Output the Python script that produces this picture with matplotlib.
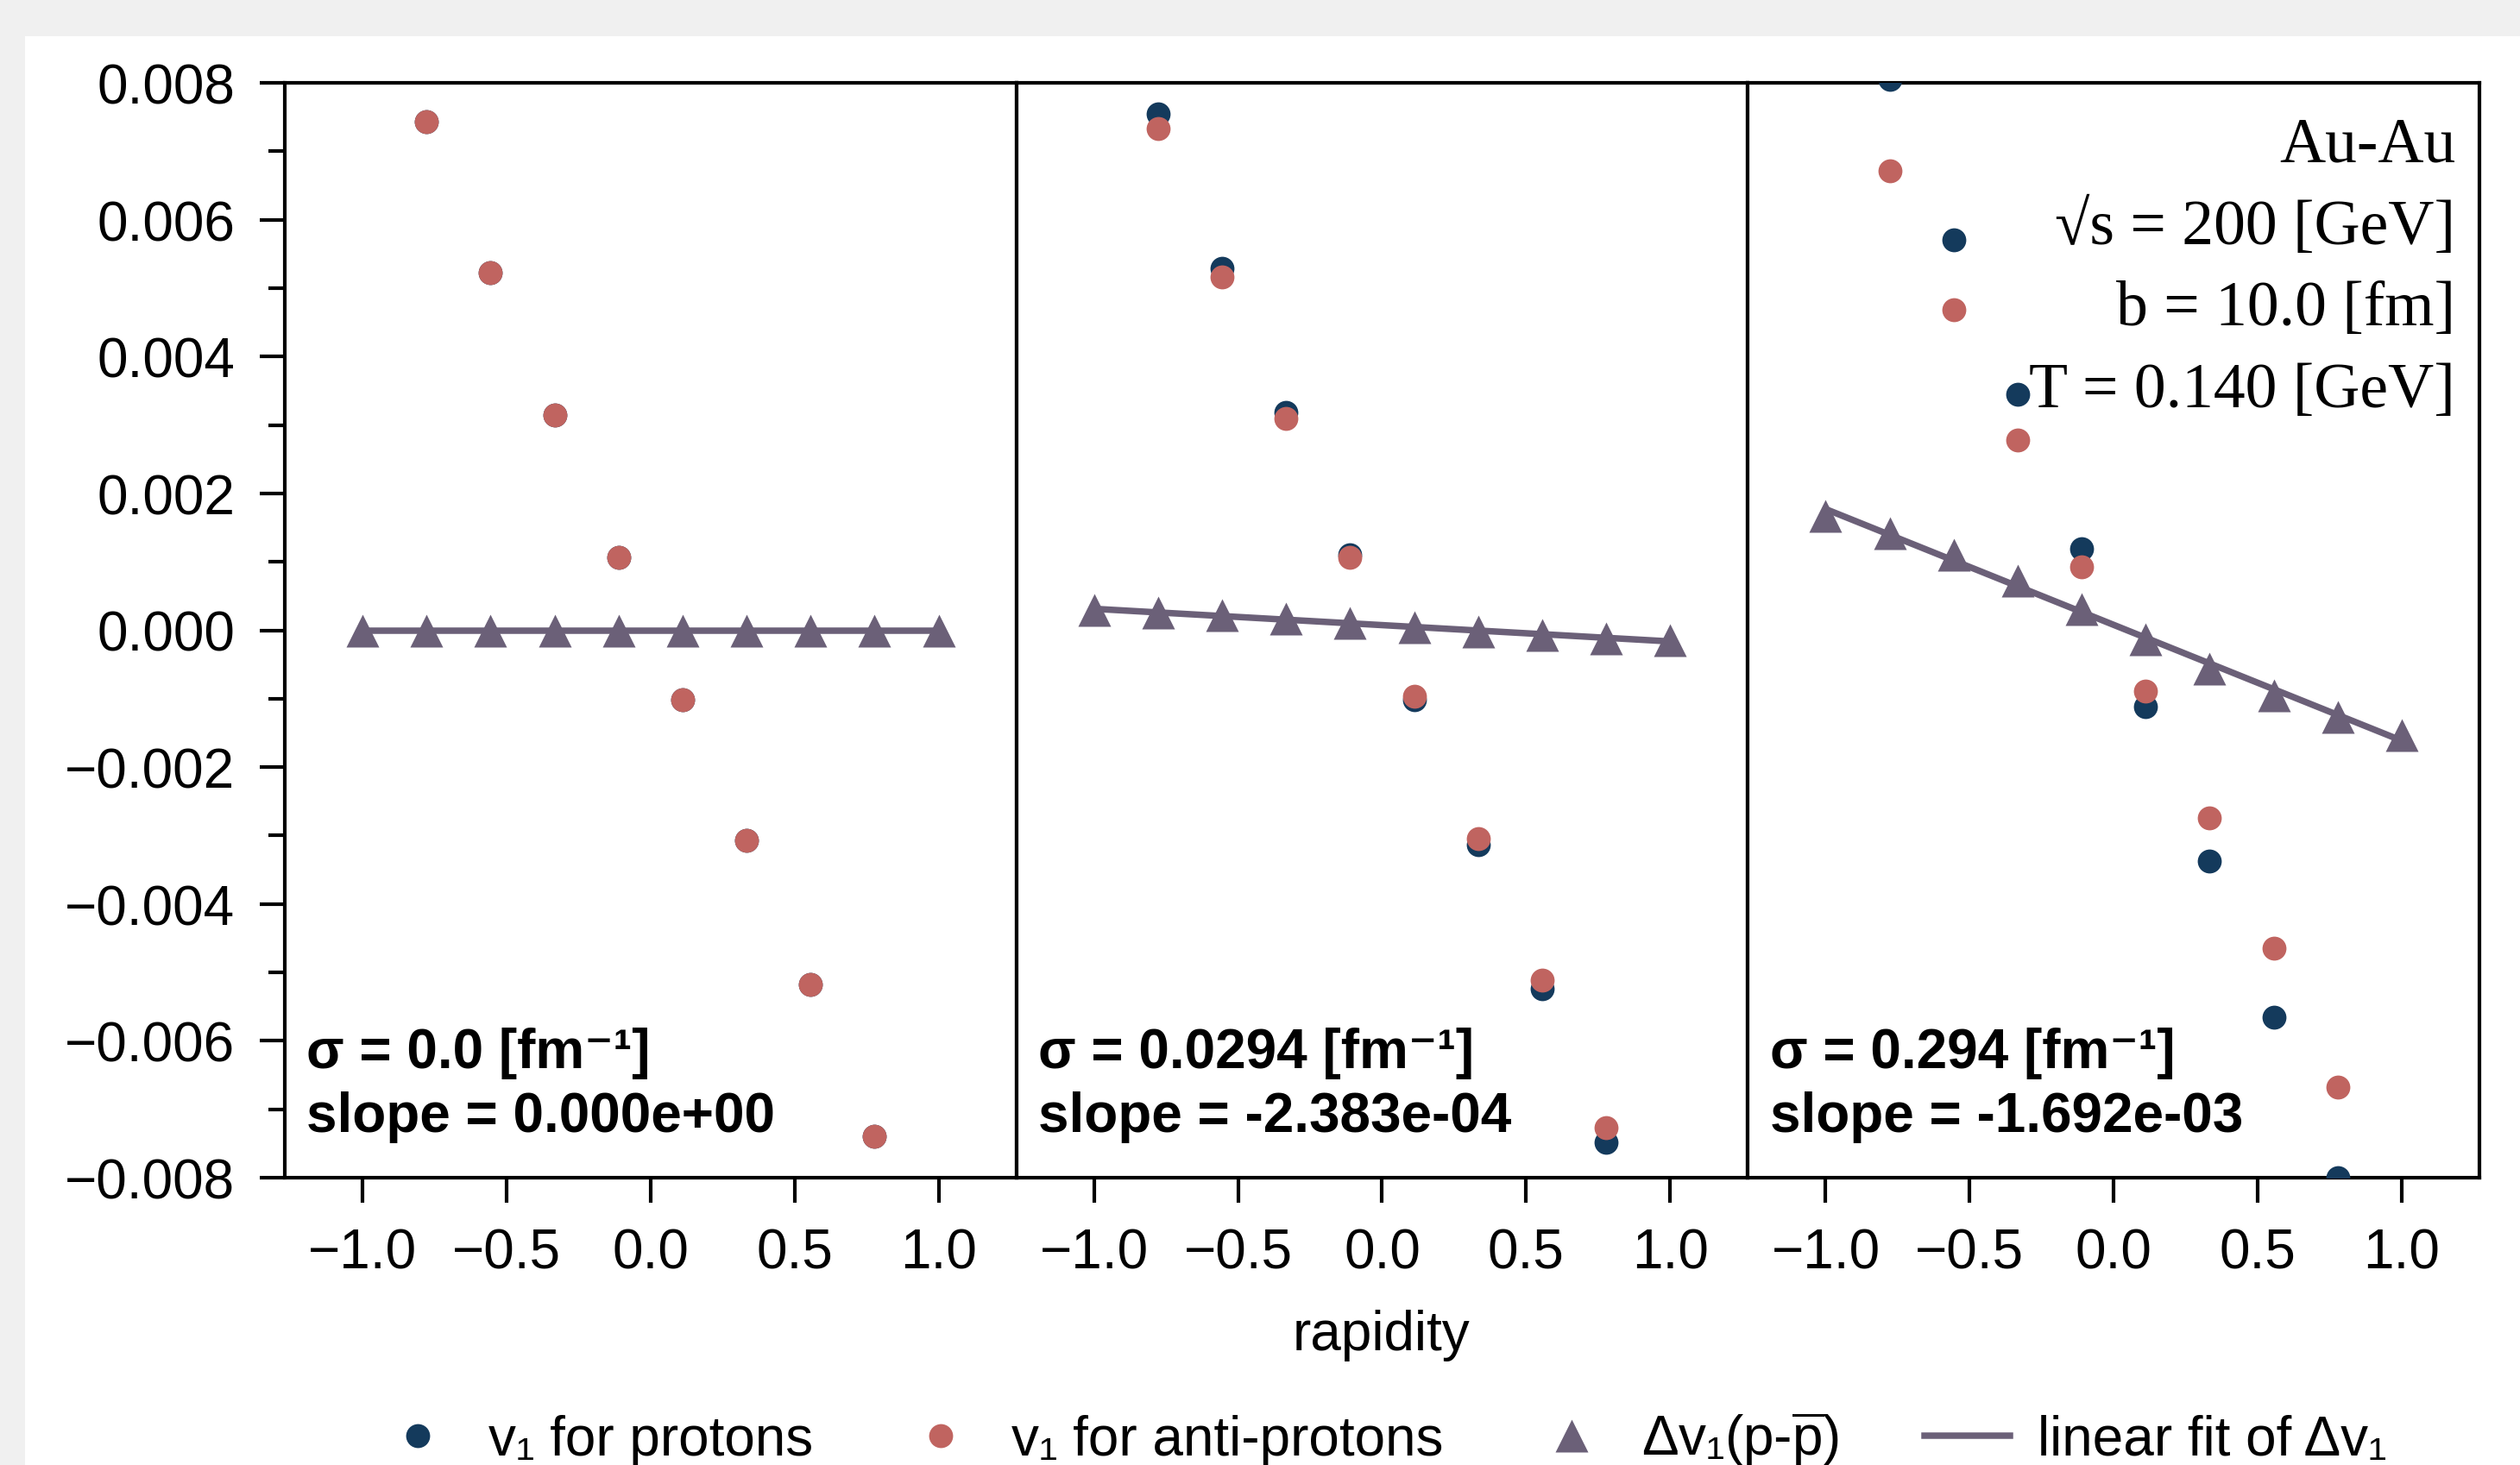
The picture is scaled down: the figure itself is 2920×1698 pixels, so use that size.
import numpy as np
import matplotlib
matplotlib.use("Agg")
import matplotlib.pyplot as plt
from matplotlib.patches import Rectangle
from matplotlib.lines import Line2D
from matplotlib.ticker import MultipleLocator

# ---- data -------------------------------------------------------------
rapidity = [-0.7778, -0.5556, -0.3333, -0.1111, 0.1111, 0.3333, 0.5556, 0.7778]
rapidity_fit = [-1.0, -0.7778, -0.5556, -0.3333, -0.1111,
                0.1111, 0.3333, 0.5556, 0.7778, 1.0]

sigma = [0.0, 0.0294, 0.294]
slope = [0.000e+00, -2.383e-04, -1.692e-03]

# sigma = 0.0
v1_protons_0 = [7.43e-3, 5.23e-3, 3.14e-3, 1.07e-3, -1.01e-3, -3.07e-3, -5.18e-3, -7.39e-3]
v1_antiprotons_0 = [7.43e-3, 5.23e-3, 3.14e-3, 1.07e-3, -1.01e-3, -3.07e-3, -5.18e-3, -7.39e-3]
dv1_0 = [0.0, 0.0, 0.0, 0.0, 0.0, 0.0, 0.0, 0.0, 0.0, 0.0]

# sigma = 0.0294
v1_protons_1 = [7.54e-3, 5.29e-3, 3.18e-3, 1.10e-3, -1.01e-3, -3.13e-3, -5.24e-3, -7.48e-3]
v1_antiprotons_1 = [7.33e-3, 5.16e-3, 3.09e-3, 1.07e-3, -0.97e-3, -3.04e-3, -5.11e-3, -7.27e-3]
dv1_1 = [0.299e-3, 0.261e-3, 0.221e-3, 0.164e-3, 0.110e-3,
         0.044e-3, -0.013e-3, -0.067e-3, -0.116e-3, -0.151e-3]

# sigma = 0.294
v1_protons_2 = [8.05e-3, 5.71e-3, 3.45e-3, 1.19e-3, -1.11e-3, -3.37e-3, -5.65e-3, -8.00e-3]
v1_antiprotons_2 = [6.71e-3, 4.68e-3, 2.78e-3, 0.93e-3, -0.89e-3, -2.74e-3, -4.64e-3, -6.67e-3]
dv1_2 = [1.675e-3, 1.423e-3, 1.108e-3, 0.725e-3, 0.303e-3,
         -0.137e-3, -0.567e-3, -0.948e-3, -1.263e-3, -1.530e-3]

v1_protons = [v1_protons_0, v1_protons_1, v1_protons_2]
v1_antiprotons = [v1_antiprotons_0, v1_antiprotons_1, v1_antiprotons_2]
dv1 = [dv1_0, dv1_1, dv1_2]

# ---- style ------------------------------------------------------------
plt.rcParams['font.family'] = ['Liberation Sans', 'DejaVu Sans']
plt.rcParams['mathtext.fontset'] = 'custom'
plt.rcParams['mathtext.rm'] = 'Liberation Sans'
plt.rcParams['mathtext.it'] = 'Liberation Sans:italic'
plt.rcParams['mathtext.bf'] = 'Liberation Sans:bold'
plt.rcParams['axes.unicode_minus'] = True

NAVY = '#143a5c'
ROSE = '#c06460'
PURPLE = '#6b6078'
FS = 23

fig = plt.figure(figsize=(14.6, 8.495), dpi=200, facecolor='white')

# light grey frame along the top and left edges
fig.patches.append(Rectangle((0, 0), 29 / 2920, 1, transform=fig.transFigure,
                             facecolor='#f0f0f0', edgecolor='none', zorder=-10))
fig.patches.append(Rectangle((0, 1 - 43 / 1699), 1, 43 / 1699, transform=fig.transFigure,
                             facecolor='#f0f0f0', edgecolor='none', zorder=-10))

left, right = 330 / 2920, 2873 / 2920
top, bottom = 1 - 97 / 1699, 1 - 1366 / 1699
gs = fig.add_gridspec(1, 3, left=left, right=right, top=top, bottom=bottom, wspace=0)
axes = [fig.add_subplot(gs[0, i]) for i in range(3)]

for i, ax in enumerate(axes):
    ax.plot(rapidity, v1_protons[i], ls='none', marker='o', ms=10,
            color=NAVY, mec='none', zorder=3)
    ax.plot(rapidity, v1_antiprotons[i], ls='none', marker='o', ms=10,
            color=ROSE, mec='none', zorder=4)
    ax.plot(rapidity_fit, dv1[i], ls='none', marker='^', ms=13.7,
            color=PURPLE, mec='none', zorder=5)
    xf = np.array([rapidity_fit[0], rapidity_fit[-1]])
    intercept = float(np.mean(dv1[i]))
    ax.plot(xf, slope[i] * xf + intercept, color=PURPLE, lw=2.7, zorder=5)

    ax.set_xlim(-1.27, 1.27)
    ax.set_ylim(-0.008, 0.008)
    ax.set_xticks([-1.0, -0.5, 0.0, 0.5, 1.0])
    ax.tick_params(axis='both', which='major', direction='out', length=10.3,
                   width=1.5, pad=10.5, labelsize=FS)
    ax.tick_params(axis='both', which='minor', direction='out', length=7, width=1.5)
    for sp in ax.spines.values():
        sp.set_linewidth(1.5)

    ax.text(0.03, 0.032,
            f"σ = {sigma[i]} [fm⁻¹]\nslope = {slope[i]:.3e}",
            transform=ax.transAxes, ha='left', va='bottom',
            fontsize=FS, fontweight='bold', linespacing=1.3, zorder=6)

    if i == 0:
        ax.yaxis.set_major_locator(MultipleLocator(0.002))
        ax.yaxis.set_minor_locator(MultipleLocator(0.001))
    else:
        ax.tick_params(axis='y', which='both', left=False, labelleft=False)

axes[2].text(0.967, 0.969,
             "Au-Au\n√s = 200 [GeV]\nb = 10.0 [fm]\nT = 0.140 [GeV]",
             transform=axes[2].transAxes, ha='right', va='top',
             fontsize=26.5, family=['Liberation Serif', 'DejaVu Serif'],
             linespacing=1.52, zorder=6)

fig.text(1601 / 2920, 1 - 1548 / 1699, 'rapidity', ha='center', va='center', fontsize=FS)

handles = [
    Line2D([], [], ls='none', marker='o', ms=10, color=NAVY, mec='none'),
    Line2D([], [], ls='none', marker='o', ms=10, color=ROSE, mec='none'),
    Line2D([], [], ls='none', marker='^', ms=13.7, color=PURPLE, mec='none'),
    Line2D([], [], color=PURPLE, lw=2.7),
]
labels = ['v₁ for protons', 'v₁ for anti-protons',
          'Δv₁(p-$\\overline{\\mathrm{p}}$)', 'linear fit of Δv₁']
fig.legend(handles, labels, loc='center', bbox_to_anchor=(0.548, 0.018), ncol=4,
           frameon=False, fontsize=FS, handlelength=1.55, handletextpad=0.5,
           columnspacing=1.55)

fig.savefig('out.png', dpi=200, facecolor=fig.get_facecolor())
